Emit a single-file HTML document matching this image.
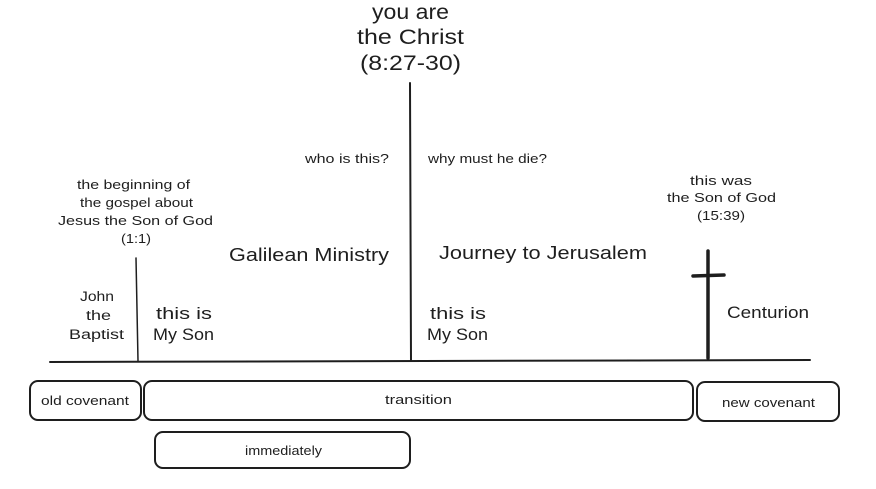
<!DOCTYPE html>
<html><head><meta charset="utf-8"><style>
body{margin:0;background:#fff;}
svg text{font-family:"Liberation Sans",sans-serif;fill:#1e1e1e;}
</style></head><body>
<svg width="876" height="484" viewBox="0 0 876 484" xmlns="http://www.w3.org/2000/svg">
<g stroke="#1e1e1e" fill="none" stroke-linecap="round">
<line x1="50" y1="362" x2="810" y2="360" stroke-width="2"/>
<line x1="136" y1="258" x2="138" y2="361" stroke-width="1.5"/>
<line x1="410" y1="83" x2="411" y2="361" stroke-width="2"/>
<line x1="708" y1="251" x2="708" y2="358" stroke-width="3.5"/>
<line x1="693" y1="276" x2="724" y2="275" stroke-width="3.5"/>
<rect x="30" y="381" width="111" height="39" rx="8" stroke-width="2"/>
<rect x="144" y="381" width="549" height="39" rx="8" stroke-width="2"/>
<rect x="697" y="382" width="142" height="39" rx="8" stroke-width="2"/>
<rect x="155" y="432" width="255" height="36" rx="8" stroke-width="2"/>
</g>
<g font-size="21" lengthAdjust="spacingAndGlyphs">
<text x="372" y="19" textLength="77" lengthAdjust="spacingAndGlyphs">you are</text>
<text x="357" y="44" textLength="107" lengthAdjust="spacingAndGlyphs">the Christ</text>
<text x="360" y="70" textLength="101" lengthAdjust="spacingAndGlyphs">(8:27-30)</text>
</g>
<g font-size="12.5">
<text x="305" y="163" textLength="84" lengthAdjust="spacingAndGlyphs">who is this?</text>
<text x="428" y="163" textLength="119" lengthAdjust="spacingAndGlyphs">why must he die?</text>
<text x="77" y="189" textLength="113" lengthAdjust="spacingAndGlyphs">the beginning of</text>
<text x="80" y="207" textLength="113" lengthAdjust="spacingAndGlyphs">the gospel about</text>
<text x="58" y="225" textLength="155" lengthAdjust="spacingAndGlyphs">Jesus the Son of God</text>
<text x="121" y="243" textLength="30" lengthAdjust="spacingAndGlyphs">(1:1)</text>
<text x="690" y="185" textLength="62" lengthAdjust="spacingAndGlyphs">this was</text>
<text x="667" y="202" textLength="109" lengthAdjust="spacingAndGlyphs">the Son of God</text>
<text x="697" y="220" textLength="48" lengthAdjust="spacingAndGlyphs">(15:39)</text>
<text x="41" y="405" textLength="88" lengthAdjust="spacingAndGlyphs">old covenant</text>
<text x="385" y="404" textLength="67" lengthAdjust="spacingAndGlyphs">transition</text>
<text x="722" y="407" textLength="93" lengthAdjust="spacingAndGlyphs">new covenant</text>
<text x="245" y="455" textLength="77" lengthAdjust="spacingAndGlyphs">immediately</text>
</g>
<text x="229" y="261" font-size="18.5" textLength="160" lengthAdjust="spacingAndGlyphs">Galilean Ministry</text>
<text x="439" y="259" font-size="18.5" textLength="208" lengthAdjust="spacingAndGlyphs">Journey to Jerusalem</text>
<g font-size="13.5">
<text x="80" y="301" textLength="34" lengthAdjust="spacingAndGlyphs">John</text>
<text x="86" y="320" textLength="25" lengthAdjust="spacingAndGlyphs">the</text>
<text x="69" y="339" textLength="55" lengthAdjust="spacingAndGlyphs">Baptist</text>
</g>
<g font-size="17">
<text x="156" y="319" textLength="56" lengthAdjust="spacingAndGlyphs">this is</text>
<text x="153" y="340" textLength="61" lengthAdjust="spacingAndGlyphs">My Son</text>
<text x="430" y="319" textLength="56" lengthAdjust="spacingAndGlyphs">this is</text>
<text x="427" y="340" textLength="61" lengthAdjust="spacingAndGlyphs">My Son</text>
<text x="727" y="318" textLength="82" lengthAdjust="spacingAndGlyphs">Centurion</text>
</g>
</svg>
</body></html>
